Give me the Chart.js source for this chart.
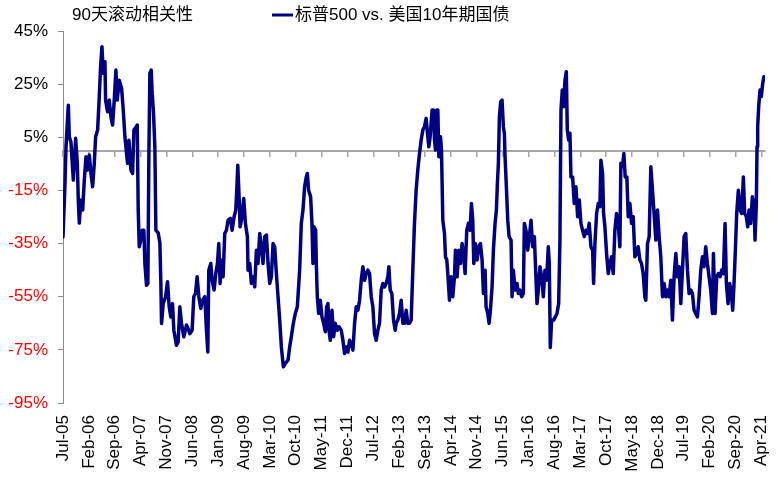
<!DOCTYPE html>
<html><head><meta charset="utf-8">
<script src="https://cdn.jsdelivr.net/npm/chart.js@4.4.1/dist/chart.umd.min.js"></script>
<style>html,body{margin:0;padding:0;background:#fff;}#wrap{width:780px;height:477px;}</style>
</head><body><div id="wrap"><canvas id="c" width="780" height="477"></canvas></div>
<script>
const chartTitle = '90天滚动相关性';
const seriesName = '标普500 vs. 美国10年期国债';
const tickLabels = ['Jul-05','Feb-06','Sep-06','Apr-07','Nov-07','Jun-08','Jan-09','Aug-09','Mar-10','Oct-10','May-11','Dec-11','Jul-12','Feb-13','Sep-13','Apr-14','Nov-14','Jun-15','Jan-16','Aug-16','Mar-17','Oct-17','May-18','Dec-18','Jul-19','Feb-20','Sep-20','Apr-21'];
const yTicks = [-95,-75,-55,-35,-15,5,25,45];
// months since Jul-05
const monthOffset = [0,0.54,0.81,1.44,1.71,2.16,2.79,3.42,3.87,4.14,4.41,4.86,5.32,5.77,6.22,6.67,7.12,7.57,8.02,8.47,8.83,9.37,9.82,10.18,10.54,10.9,11.35,11.53,12.07,12.52,12.97,13.42,13.87,14.32,14.68,15.23,15.86,16.31,16.76,17.21,17.48,17.84,18.38,18.83,19.19,19.64,20.09,20.36,20.63,21.08,21.44,21.89,22.16,22.61,22.97,23.24,23.51,23.87,24.14,24.5,24.86,25.14,25.77,26.22,26.49,26.67,27.12,27.75,28.29,28.74,29.19,29.64,30.0,30.72,31.17,31.62,32.07,32.7,33.42,33.87,34.32,34.95,35.4,35.86,36.31,36.76,37.3,37.75,38.38,38.83,39.19,39.46,40,40.36,40.9,41.35,41.8,42.16,42.52,42.88,43.33,43.78,44.23,44.68,45.31,45.77,46.31,46.76,47.03,47.3,47.66,47.93,48.29,48.92,49.37,49.91,50.09,50.54,50.99,51.44,51.89,52.34,52.79,53.24,53.69,54.14,54.59,55.05,55.5,55.95,56.4,56.85,57.3,57.75,58.2,58.65,59.1,59.64,60.18,60.9,61.35,61.8,62.34,62.88,63.42,64.05,64.5,64.95,65.4,65.85,66.12,66.48,67.02,67.38,67.65,67.93,68.38,68.56,68.83,69.19,69.64,70.09,70.54,70.99,71.35,71.71,71.98,72.34,72.79,73.24,73.69,74.23,74.68,75.31,75.76,76.21,76.66,77.11,77.56,78.02,78.47,78.92,79.37,79.82,80.27,80.72,81.17,81.62,82.07,82.52,82.97,83.42,83.87,84.32,84.77,85.22,85.67,86.12,86.57,87.02,87.47,87.93,88.2,88.56,89.01,89.46,89.91,90.18,90.63,91.08,91.53,91.98,92.43,92.88,93.33,93.78,94.23,94.68,95.13,95.58,96.03,96.49,96.94,97.39,97.84,98.29,98.74,99.01,99.37,99.91,100.28,100.55,100.82,101.18,101.45,101.72,102.17,102.44,102.8,103.25,103.52,103.88,104.15,104.6,105.05,105.5,105.95,106.22,106.67,107.12,107.57,108.02,108.47,108.83,109.28,109.73,110.18,110.55,110.9,111.18,111.63,112.08,112.53,112.98,113.43,113.79,114.24,114.51,114.96,115.32,115.68,116.13,116.49,116.94,117.3,117.57,117.84,118.11,118.47,118.83,119.19,119.46,119.64,120,120.37,120.73,121.27,121.54,121.9,122.35,122.89,123.25,123.7,124.15,124.6,124.87,125.32,125.77,126.22,126.67,127.12,127.57,128.29,128.65,129.1,129.55,130,130.45,130.9,131.35,131.62,131.89,132.25,132.8,133.25,133.7,134.15,134.5,134.78,135.14,135.5,135.86,136.22,136.49,136.85,137.21,137.48,137.93,138.38,138.83,139.28,139.73,140.18,140.63,141.08,141.53,141.98,142.43,142.89,143.34,143.61,143.97,144.42,144.87,145.32,145.59,146.04,146.31,146.67,147.12,147.57,148.02,148.47,148.92,149.37,149.82,150.27,150.72,150.99,151.44,151.8,152.16,152.61,152.98,153.43,153.88,154.33,154.78,155.23,155.68,156.13,156.58,157.03,157.48,157.75,158.2,158.65,159.1,159.55,160,160.45,160.9,161.35,161.8,162.25,162.7,163.15,163.6,164.05,164.5,164.95,165.4,165.86,166.31,166.76,167.21,167.66,168.11,168.56,169.01,169.46,169.91,170.36,170.81,171.26,171.71,172.16,172.61,173.06,173.51,173.96,174.41,174.86,175.32,175.77,176.04,176.49,176.94,177.39,177.84,178.29,178.74,179.19,179.55,180,180.45,180.9,181.26,181.62,181.98,182.34,182.79,183.24,183.69,184.14,184.5,184.95,185.32,185.68,186.13,186.58,187.03,187.3,187.66,187.84,188.02,188.29,188.65,189.01,189.37,189.73,190];
// 90-day rolling correlation, %
const corr = [-32.5,-12.4,1.4,17.1,5.2,3,-11.1,4.6,-4.7,-18.6,-27.3,-18.6,-22.4,-11,-2.3,-7.3,-1.7,-8.6,-13.6,-4.8,5.2,7.7,20.3,31.6,39.1,29.1,33.4,19,14.6,19,12.7,9.6,19,30.3,19,26.5,23.4,15.2,5.2,-1.1,-4.8,3.9,-7.3,-8.6,7.7,8.6,9.6,-22.4,-36.2,-33.7,-30,-30,-42.5,-50.7,-50,-2.3,29.1,30.3,21.6,14.1,1.4,-30,-31,-34.8,-50,-65.1,-57.6,-55.1,-49.4,-58.8,-62.6,-57.6,-67.6,-73.3,-72,-58.8,-65,-70.1,-65.7,-67,-68.9,-67.6,-55,-53.8,-47.5,-55,-59.4,-56.3,-55,-67.6,-75.8,-45,-42.5,-48.8,-52.5,-46.3,-42.5,-35,-50,-41.2,-47.5,-31.2,-30,-26.2,-25.5,-30,-24.9,-22.4,-14.9,-5.5,-17.4,-28.7,-26.2,-18,-27.4,-32.4,-45,-42.5,-50,-47.5,-51.3,-37.5,-42.5,-31.2,-36.2,-42.5,-32.4,-31.8,-42.5,-50,-47.5,-35,-36.2,-46.3,-55,-63.8,-73.9,-81.4,-80.1,-78.9,-73.9,-70.1,-65,-61.3,-58.8,-45,-27.4,-22.4,-13.6,-9.9,-8.6,-14.9,-17.4,-27.4,-42.5,-28.7,-30,-42.5,-55,-61.3,-56.3,-62.6,-65,-68.2,-58.8,-57.6,-67.6,-71.4,-60.1,-70.1,-65,-67.6,-66.3,-67.6,-71.4,-76.4,-73.9,-75.8,-71.4,-72.6,-75.1,-65,-58.8,-60.1,-56.3,-48.8,-43.7,-48.8,-46.3,-45,-46.3,-55,-58.8,-68.9,-71.4,-67.6,-65,-52.5,-50,-51.3,-50,-47.5,-43.7,-52.5,-53.8,-63.8,-67.6,-65,-63.8,-61.3,-56.3,-65,-65,-60.1,-65,-65,-63.8,-45,-27.4,-14.9,-7.3,-1.1,4,7.7,9,12.1,5.2,1.4,5.2,15.3,15.3,4,0.2,15.3,15.3,-2.3,5.2,0.2,-26.2,-31.2,-40,-41.2,-46.3,-56.3,-47.5,-55,-47.5,-37.5,-47.5,-37.5,-42.5,-35,-40,-46.3,-30,-27.4,-30,-19.9,-26.2,-42.5,-35,-41.2,-36.2,-35,-41.2,-53.8,-45,-58.8,-61.3,-65,-60.1,-51.3,-37.5,-27.4,-22.4,-12.4,-4.8,12.7,18.4,19,9,6.5,-2.3,-13.6,-26.2,-32.4,-33.7,-55,-45,-52.5,-50,-53.8,-52.5,-55,-53.8,-27.4,-30,-37.5,-32.4,-26.2,-36.2,-32.4,-57.6,-52.5,-43.7,-47.5,-55,-45,-48.8,-36.2,-42.5,-74.1,-63.8,-63.8,-62.6,-61.3,-57.6,-33.7,15.3,22.8,16.5,26.5,29.7,7.7,4,6.5,-9.9,-9.9,-19.9,-13.6,-24.9,-18.6,-27.4,-30,-32.4,-30,-31.2,-27.4,-36.2,-37.5,-50,-35,-23.7,-19.9,-21.1,-3.6,-8.6,-23.7,-28.7,-38.7,-46.3,-42.5,-40,-46.3,-30,-23.7,-27.4,-36.2,-4.8,-6.1,-1.1,-9.9,-9.9,-24.9,-19.9,-27.4,-24.9,-40,-38.7,-36.2,-41.2,-42.5,-46.3,-55,-56.3,-35,-32.4,-6.1,-14.9,-24,-33.7,-22.4,-32.4,-40,-55,-50,-55,-52.5,-55,-48.8,-63.8,-47.5,-38.7,-47.5,-43.7,-57.6,-45,-32.4,-31.2,-45,-53.8,-52.5,-53.8,-60.1,-61.3,-62.6,-55,-45,-40,-43.7,-36.2,-42.5,-47.5,-52.5,-61.3,-38.7,-61.3,-47.5,-46.3,-47.5,-45,-46.3,-27.4,-50,-57.6,-50,-53.8,-60.1,-50,-37.5,-23.7,-14.9,-22.4,-23.7,-9.9,-23.7,-24.9,-28.7,-22.4,-27.4,-17.4,-19.9,-33.7,-19.9,1.4,9,16.5,22.8,20.3,25.3,27.8,27.2];

const FONT = '"Liberation Sans", Arial, "Noto Sans CJK SC", sans-serif';
const AXIS_GRAY = '#8C8C8C';
const ZERO_GRAY = '#A6A6A6';
const LINE_COLOR = '#000080';

const headerPlugin = {
  id: 'header',
  afterDraw(chart) {
    const ctx = chart.ctx;
    const ds = chart.data.datasets[0];
    ctx.save();
    ctx.font = '17px ' + FONT;
    ctx.fillStyle = '#000';
    ctx.textBaseline = 'middle';
    ctx.textAlign = 'left';
    ctx.fillText(chartTitle, 72, 15);
    ctx.strokeStyle = ds.borderColor;
    ctx.lineWidth = 3;
    ctx.beginPath(); ctx.moveTo(272, 15); ctx.lineTo(293, 15); ctx.stroke();
    ctx.fillText(ds.label, 295, 15);
    ctx.restore();
  }
};

const xTicksFromLabels = s => { s.ticks = tickLabels.map((_, i) => ({ value: i * 7 })); };

new Chart(document.getElementById('c'), {
  type: 'line',
  data: {
    datasets: [{
      label: seriesName,
      data: monthOffset.map((m, i) => ({ x: m, y: corr[i] })),
      borderColor: LINE_COLOR,
      backgroundColor: LINE_COLOR,
      borderWidth: 3.5,
      borderJoinStyle: 'round',
      borderCapStyle: 'round',
      pointRadius: 0,
      tension: 0,
      fill: false,
      xAxisID: 'x',
      yAxisID: 'y'
    }]
  },
  options: {
    responsive: false,
    animation: false,
    devicePixelRatio: 1,
    layout: { padding: { top: 31, right: 0, left: 0, bottom: 0 } },
    plugins: { legend: { display: false }, tooltip: { enabled: false } },
    scales: {
      x: {
        type: 'linear', position: 'bottom', min: 0, max: 190,
        afterBuildTicks: xTicksFromLabels,
        afterFit: s => { s.height = 74; s.paddingRight = 15; },
        grid: { display: false, drawTicks: false },
        border: { display: false },
        ticks: {
          autoSkip: false, maxRotation: 90, minRotation: 90, padding: 12,
          color: '#000', font: { family: FONT, size: 17 },
          callback: v => tickLabels[Math.round(v / 7)] || ''
        }
      },
      x2: {
        type: 'linear', axis: 'x', position: { y: 0 }, min: 0, max: 190,
        afterBuildTicks: xTicksFromLabels,
        grid: { drawOnChartArea: false, drawTicks: true, tickLength: 5, color: ZERO_GRAY, lineWidth: 1.5 },
        border: { display: true, color: ZERO_GRAY, width: 2 },
        ticks: { display: false }
      },
      y: {
        type: 'linear', position: 'left', min: -95, max: 45,
        afterBuildTicks: s => { s.ticks = yTicks.map(v => ({ value: v })); },
        afterFit: s => { s.width = 63; },
        grid: { drawOnChartArea: false, drawTicks: true, tickLength: 5, color: AXIS_GRAY },
        border: { display: true, color: AXIS_GRAY, width: 1 },
        ticks: {
          padding: 10,
          font: { family: FONT, size: 17 },
          color: c => (c.tick && c.tick.value < 0) ? '#FF0000' : '#000000',
          callback: v => v + '%'
        }
      }
    }
  },
  plugins: [headerPlugin]
});
</script>
</body></html>
